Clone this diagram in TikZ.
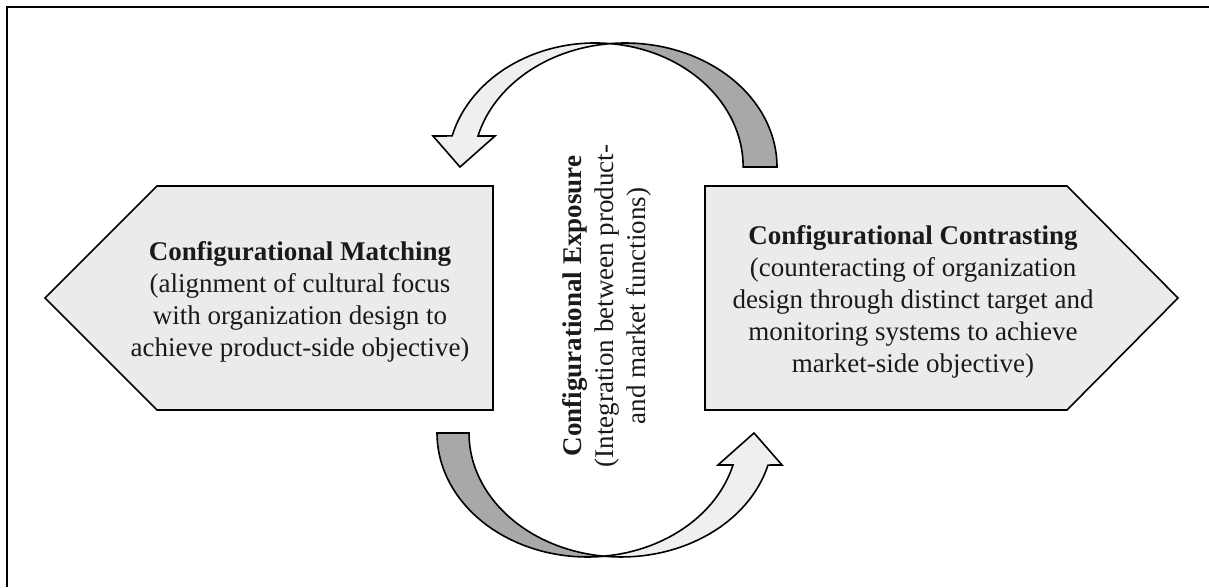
\documentclass[tikz,border=0pt]{standalone}
\usepackage{fontspec}
\setmainfont{Liberation Serif}
\definecolor{boxgrey}{HTML}{EBEBEB}
\definecolor{frontgrey}{HTML}{EFEFEF}
\definecolor{backgrey}{HTML}{A8A8A8}
\definecolor{ink}{HTML}{1A1A1A}
\begin{document}
\begin{tikzpicture}[x=1pt,y=1pt,
  outline/.style={draw=black, line width=1.6pt, line join=miter},
  panel/.style={outline, fill=boxgrey},
  front/.style={outline, fill=frontgrey},
  back/.style={outline, fill=backgrey},
  label/.style={align=center, text=ink, inner sep=0pt,
    font=\fontsize{27}{32}\selectfont}]
\useasboundingbox (0,0) rectangle (1209,587);
\fill[white] (0,0) rectangle (1209,587);
% frame (top and left edges)
\draw[line width=2.2pt] (7,0) -- (7,580) -- (1209,580);

% left pentagon pointing west
\draw[panel] (45,289) -- (157,401) -- (493,401) -- (493,177) -- (157,177) -- cycle;
% right pentagon pointing east
\draw[panel] (705,401) -- (1067,401) -- (1178,289) -- (1067,177) -- (705,177) -- cycle;

% upper curved arrow: back face (right) and front face with head (left)
\coordinate (tx) at (609.9,543.4);
\draw[back] (777,420) arc[start angle=0, end angle=95.7, x radius=151.9pt, y radius=124pt]
  arc[start angle=84.3, end angle=0, x radius=147.8pt, y radius=124pt] -- cycle;
\draw[front] (tx) arc[start angle=84.3, end angle=165.5, x radius=147.8pt, y radius=124pt]
  -- (433,451) -- (460,420) -- (495,451) -- (478,451)
  arc[start angle=165.5, end angle=95.7, x radius=151.9pt, y radius=124pt] -- cycle;

% lower curved arrow: back face (left) and front face with head (right)
\coordinate (bx) at (604.3,30.8);
\draw[back] (437,154) arc[start angle=180, end angle=276.37, x radius=150.6pt, y radius=124pt]
  arc[start angle=263.66, end angle=180, x radius=152.1pt, y radius=124pt] -- cycle;
\draw[front] (bx) arc[start angle=263.66, end angle=345, x radius=152.1pt, y radius=124pt]
  -- (782,122) -- (754,154) -- (718,122) -- (733,122)
  arc[start angle=345, end angle=276.37, x radius=150.6pt, y radius=124pt] -- cycle;

% texts
\node[label] (matching) at (300,285)
  {\textbf{Configurational Matching}\\
   (alignment of cultural focus\\
   with organization design to\\
   achieve product-side objective)};
\node[label] (contrasting) at (913,285)
  {\textbf{Configurational Contrasting}\\
   (counteracting of organization\\
   design through distinct target and\\
   monitoring systems to achieve\\
   market-side objective)};
\node[label, rotate=90] (exposure) at (607,281)
  {\textbf{Configurational Exposure}\\
   (Integration between product-\\
   and market functions)};
\end{tikzpicture}
\end{document}
